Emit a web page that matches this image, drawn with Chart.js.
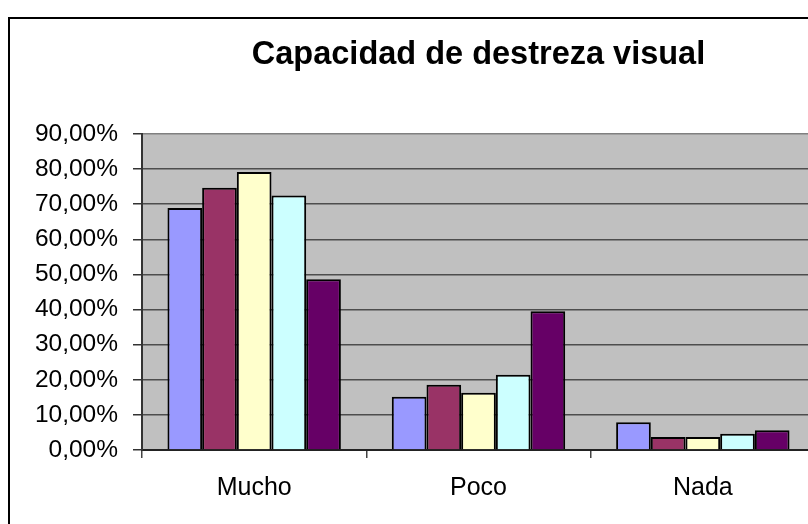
<!DOCTYPE html>
<html>
<head>
<meta charset="utf-8">
<script src="https://cdn.jsdelivr.net/npm/chart.js@4"></script>
<style>
  html, body { margin: 0; padding: 0; background: #fff; overflow: hidden; width: 808px; height: 524px; }
  #frame { position: absolute; left: 8px; top: 17px; width: 900px; height: 600px; border: 2px solid #000; }
  #wrap { position: absolute; left: 0; top: 0; width: 830px; height: 524px; }
</style>
</head>
<body>
<div id="frame"></div>
<div id="wrap"><canvas id="chart" width="830" height="524"></canvas></div>
<script>
// values, in percent
const categories = ['Mucho', 'Poco', 'Nada'];
const serie1 = [68.9, 15.2, 7.9];
const serie2 = [74.7, 18.6, 3.7];
const serie3 = [79.2, 16.3, 3.7];
const serie4 = [72.5, 21.4, 4.6];
const serie5 = [48.6, 39.5, 5.6];
const seriesNames = ['Serie 1', 'Serie 2', 'Serie 3', 'Serie 4', 'Serie 5'];
const COLORS = ['#9999FF', '#993366', '#FFFFCC', '#CCFFFF', '#660066'];
const Y_MAX = 90, Y_STEP = 10;

Chart.defaults.font.family = "'Liberation Sans', Arial, sans-serif";
Chart.defaults.color = '#000';

const plotBg = {
  id: 'plotBg',
  beforeDraw(chart) {
    const { ctx, chartArea: a } = chart;
    ctx.save();
    ctx.fillStyle = '#C0C0C0';
    ctx.fillRect(a.left, a.top, a.right - a.left, a.bottom - a.top);
    ctx.restore();
  }
};

const fmt = v => v.toFixed(2).replace('.', ',') + '%';

new Chart(document.getElementById('chart').getContext('2d'), {
  type: 'bar',
  data: {
    labels: categories,
    datasets: [serie1, serie2, serie3, serie4, serie5].map((d, i) => ({
      label: seriesNames[i],
      data: d,
      backgroundColor: COLORS[i],
      borderColor: '#000',
      borderWidth: 2,
      barPercentage: 1,
      categoryPercentage: 0.773
    }))
  },
  options: {
    responsive: false,
    animation: false,
    layout: { padding: { left: 0, right: 15, top: 0, bottom: 0 } },
    plugins: {
      legend: { display: false },
      tooltip: { enabled: false },
      title: {
        display: true,
        text: 'Capacidad de destreza visual',
        fullSize: false,
        color: '#000',
        font: { size: 32.5, weight: 'bold' },
        padding: { top: 36, bottom: 59 }
      }
    },
    scales: {
      x: {
        grid: { display: true, drawOnChartArea: false, drawTicks: true, tickLength: 8, color: '#444', lineWidth: 1.5 },
        border: { display: true, color: '#222', width: 2 },
        ticks: { font: { size: 25 }, padding: 15, maxRotation: 0 },
        afterFit(s) { s.height = 74; }
      },
      y: {
        min: 0, max: Y_MAX,
        ticks: { stepSize: Y_STEP, padding: 15, font: { size: 24.5 }, callback: v => fmt(v) },
        grid: { color: ctx => ctx.tick && ctx.tick.value === Y_MAX ? '#808080' : '#4d4d4d', lineWidth: 1.5, tickLength: 9, tickColor: '#333' },
        border: { color: '#333', width: 2 },
        afterFit(s) { s.width = 142; }
      }
    }
  },
  plugins: [plotBg]
});
</script>
</body>
</html>
